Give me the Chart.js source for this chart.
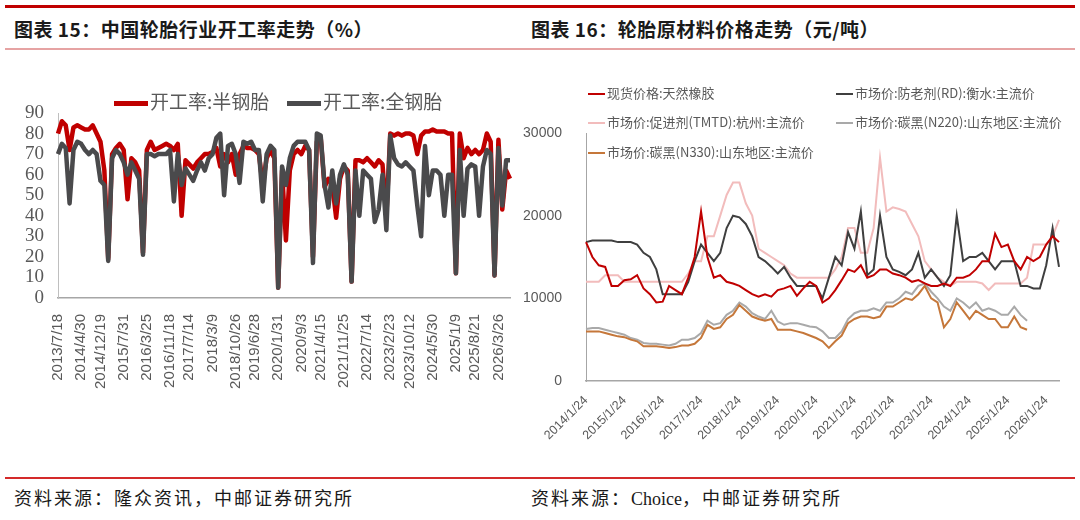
<!DOCTYPE html>
<html>
<head>
<meta charset="utf-8">
<script src="https://cdn.jsdelivr.net/npm/chart.js@4.4.1/dist/chart.umd.min.js"></script>
<style>
body{margin:0;width:1080px;height:520px;background:#fff;position:relative;overflow:hidden;font-family:"Noto Sans CJK SC",sans-serif;}
.rule{position:absolute;left:5px;width:1070px;}
#topRule{top:5px;height:3px;background:#c00000;}
#midRule{top:48px;height:2px;background:#e6a3a3;}
#botRule{top:477px;height:2px;background:#d42a2a;}
.title{position:absolute;top:15px;font-size:19px;font-weight:700;color:#1a1a1a;letter-spacing:0.5px;}
.src{position:absolute;top:484px;font-size:18px;color:#1a1a1a;letter-spacing:2px;}
.src b{font-family:"Liberation Serif",serif;font-weight:400;letter-spacing:0;}
.box{position:absolute;top:60px;height:410px;}
.lg{position:absolute;color:#595959;white-space:nowrap;line-height:1;}
.lg i{display:inline-block;vertical-align:middle;margin-right:2px;}
</style>
</head>
<body>
<div class="rule" id="topRule"></div>
<div class="title" style="left:14px">图表 15：中国轮胎行业开工率走势（%）</div>
<div class="title" style="left:531px">图表 16：轮胎原材料价格走势（元/吨）</div>
<div class="rule" id="midRule"></div>

<div class="box" style="left:0;width:540px"><canvas id="left"></canvas></div>
<div class="box" style="left:520px;width:560px"><canvas id="right"></canvas></div>
<div id="legends"></div>

<div class="rule" id="botRule"></div>
<div class="src" style="left:14px">资料来源：隆众资讯，中邮证券研究所</div>
<div class="src" style="left:531px">资料来源：<b>Choice</b>，中邮证券研究所</div>

<script>
// ---- 图表15 数据（约每4周一个点）----
const leftTicks = ['2013/7/18','2014/4/30','2014/12/19','2015/7/31','2016/3/25','2016/11/18','2017/7/14',
  '2018/3/9','2018/10/26','2019/6/28','2020/1/31','2020/9/3','2021/4/15','2021/11/25','2022/7/14',
  '2023/2/23','2023/10/12','2024/5/30','2025/1/9','2025/8/21','2026/3/26'];
const semiSteel = [80,86,84,72,83,84,83,82,82,84,
  80,76,62,19,70,73,75,72,48,68,
  66,62,22,72,76,72,73,74,75,74,
  72,75,40,67,65,63,66,68,70,70,
  71,73,64,70,66,70,60,70,74,73,
  73,72,70,55,68,72,68,5,62,28,
  62,70,72,70,74,72,20,76,78,54,
  58,55,39,58,64,62,8,67,67,66,
  68,66,64,67,65,40,80,79,80,79,
  80,80,79,70,79,81,81,82,81,81,
  81,80,80,12,80,68,73,70,72,70,
  72,80,76,11,77,43,62,58];
const fullSteel = [70,75,73,46,72,76,75,72,70,72,
  70,57,55,18,68,72,70,66,60,66,
  62,58,21,70,70,69,70,70,70,72,
  47,70,55,63,60,57,62,66,62,68,
  70,78,80,50,74,75,70,56,76,75,
  76,72,72,47,70,74,72,5,64,55,
  68,74,76,76,76,72,17,80,79,55,
  44,62,46,60,65,60,8,62,40,62,
  60,58,37,43,60,33,79,68,65,64,
  66,64,62,45,30,74,50,62,62,60,
  40,60,60,12,72,40,63,65,64,40,
  64,72,70,11,73,45,67,67];
const leftNames = ['开工率:半钢胎','开工率:全钢胎'];
const lastTickIndex = 114; // 2026/3/26 所在的点

// ---- 图表16 数据（每两个月一个点）----
const years = [2014,2015,2016,2017,2018,2019,2020,2021,2022,2023,2024,2025,2026];
const months = [1,3,5,7,9,11];
const rubber = [16800,15000,14000,13800,11500,11500,12200,12300,12800,11200,
  10500,9500,9600,11500,11000,10500,12500,15000,20500,15000,
  12500,12800,12000,11800,11500,11000,10500,10200,10500,10200,
  11000,11200,11500,10300,11200,12000,11500,9500,10000,11000,
  12200,13500,13200,14000,12500,12800,13500,13500,13000,12800,
  12500,12000,12200,11800,11500,11500,11800,11500,12500,12500,
  12800,13500,14500,14500,17800,16200,16500,14500,13500,15000,
  14500,15000,16500,17500,16800];
const rd = [16800,17000,17000,17000,17000,16800,16800,16800,16500,15500,
  15000,13500,10500,10500,10500,10500,12000,14500,16500,15500,
  14500,15500,18500,20000,19800,19000,17500,15000,14500,13800,
  13000,13800,12500,11500,11500,11500,11500,10000,12500,15000,
  14000,18000,16000,20500,12800,13500,20000,15000,13500,13200,
  12800,13500,15500,12500,13500,12500,11500,12800,20000,14500,
  15000,15000,15500,14500,13500,14500,14500,14500,11500,11500,
  11200,11200,14000,18500,13800];
const tmtd = [12000,12000,12000,12800,12800,12800,12000,12000,12000,12000,
  12000,12000,12000,12000,12000,12000,13000,14500,14500,17500,
  17500,20000,22500,24000,24000,21500,20000,16000,15500,15000,
  14500,14000,13000,12500,12500,12500,12500,12500,12500,13500,
  15000,18500,18500,15500,15500,18500,27000,20500,21000,20800,
  20500,19000,17500,14500,13500,12500,12000,11500,12000,12000,
  12000,12000,11800,11000,11800,11800,11800,11800,11800,12500,
  16500,16500,16500,17500,19500];
const n220 = [6300,6400,6400,6200,6000,5800,5600,5200,5000,4600,
  4500,4500,4400,4300,4500,5000,5000,5200,5800,7300,
  6800,7000,8000,8500,9500,9000,8200,7800,7500,8500,
  7200,6800,7000,7000,6800,6600,6500,6000,5200,5200,
  6000,7500,8200,8500,8500,8800,8500,9500,9500,10000,
  10800,10500,11500,11800,10800,10000,9000,8500,10000,9500,
  8800,9500,8500,8800,8500,8000,8000,9000,8000,7300];
const n330 = [6000,6000,6000,5800,5600,5400,5300,5000,4800,4200,
  4200,4200,4100,4000,4100,4300,4300,4500,5200,6800,
  6300,6500,7500,8000,9200,8500,7800,7500,7300,7500,
  6200,6200,6200,6000,5800,5500,5200,4800,4000,4800,
  5500,7000,7500,7800,7800,7600,7800,9000,9000,9500,
  10000,9800,10500,11500,10000,9500,6500,7500,9500,8500,
  7500,8500,8000,7500,7500,6500,6500,7800,6500,6200];
const rightNames = ['现货价格:天然橡胶','市场价:防老剂(RD):衡水:主流价','市场价:促进剂(TMTD):杭州:主流价',
  '市场价:碳黑(N220):山东地区:主流价','市场价:碳黑(N330):山东地区:主流价'];
const rightTicks = [0,10000,20000,30000];

const grey = '#595959';

// 左图：刻度标签均匀分布在前 lastTickIndex 个点上
const leftLabels = semiSteel.map(() => '');
leftTicks.forEach((t, k) => {
  leftLabels[Math.round(k * lastTickIndex / (leftTicks.length - 1))] = t;
});
new Chart(document.getElementById('left'), {
  type: 'line',
  data: {
    labels: leftLabels,
    datasets: [
      {label: leftNames[0], data: semiSteel, borderColor: '#c00000', borderWidth: 4.5, order: 2},
      {label: leftNames[1], data: fullSteel, borderColor: '#4a4a4c', borderWidth: 4.5, order: 1}
    ]
  },
  options: {
    responsive: true, maintainAspectRatio: false, animation: false,
    elements: {point: {radius: 0}, line: {tension: 0, borderJoinStyle: 'round'}},
    layout: {padding: {top: 53, right: 30, left: 0, bottom: 0}},
    plugins: {legend: {display: false}, tooltip: {enabled: false}},
    scales: {
      x: {
        grid: {display: false},
        border: {color: '#a6a6a6', width: 1.5},
        ticks: {autoSkip: false, minRotation: 90, maxRotation: 90, padding: 8, color: grey,
          font: {family: 'Liberation Sans', size: 15}},
        afterFit: s => { s.height = 172; }
      },
      y: {
        min: 0, max: 90,
        grid: {display: false},
        border: {color: '#bfbfbf', width: 1},
        ticks: {stepSize: 10, autoSkip: false, padding: 6, color: grey,
          font: {family: 'Liberation Sans Narrow', size: 19}},
        afterFit: s => { s.width = 58; }
      }
    }
  }
});

// 右图
const rightLabels = [];
years.forEach(y => months.forEach(m => rightLabels.push(y + '/' + m + '/24')));
rightLabels.length = rubber.length;
const rightColors = ['#c00000', '#3f3f3f', '#f2bcbc', '#a9a9a9', '#c5773a'];
const rightSeries = [rubber, rd, tmtd, n220, n330];
const rightOrder = [1, 2, 5, 4, 3];
new Chart(document.getElementById('right'), {
  type: 'line',
  data: {
    labels: rightLabels,
    datasets: rightSeries.map((d, k) => ({
      label: rightNames[k], data: d, borderColor: rightColors[k], borderWidth: 2, order: rightOrder[k]
    }))
  },
  options: {
    responsive: true, maintainAspectRatio: false, animation: false,
    elements: {point: {radius: 0}, line: {tension: 0}},
    layout: {padding: {top: 73, right: 21, left: 0, bottom: 0}},
    plugins: {legend: {display: false}, tooltip: {enabled: false}},
    scales: {
      x: {
        grid: {display: false},
        border: {color: '#a6a6a6', width: 1.5},
        ticks: {autoSkip: false, minRotation: 45, maxRotation: 45, padding: 4, color: grey,
          font: {family: 'Liberation Sans', size: 12.5},
          callback: (v, i) => rightLabels[i].split('/')[1] === '1' ? rightLabels[i] : ''},
        afterFit: s => { s.height = 89; }
      },
      y: {
        min: 0, max: 30000,
        grid: {display: false},
        border: {color: '#a6a6a6', width: 1},
        afterBuildTicks: s => { s.ticks = rightTicks.map(v => ({value: v})); },
        ticks: {padding: 16, color: grey, font: {family: 'Liberation Sans', size: 14},
          callback: v => String(v)},
        afterFit: s => { s.width = 66; }
      }
    }
  }
});

// 图例
const lg = document.getElementById('legends');
function addLegend(x, y, text, color, size, lineW, lineH) {
  const d = document.createElement('div');
  d.className = 'lg';
  d.style.left = x + 'px';
  d.style.top = y + 'px';
  d.style.fontSize = size + 'px';
  d.innerHTML = '<i style="width:' + lineW + 'px;height:' + lineH + 'px;background:' + color + '"></i>' + text;
  lg.appendChild(d);
}
addLegend(114, 91, leftNames[0], '#c00000', 19, 34, 5);
addLegend(287, 91, leftNames[1], '#4a4a4c', 19, 34, 5);
const lgPos = [[588, 86], [836, 86], [588, 115], [836, 115], [588, 145]];
rightNames.forEach((n, k) => addLegend(lgPos[k][0], lgPos[k][1], n, rightColors[k], 13, 17, 2));
</script>
</body>
</html>
